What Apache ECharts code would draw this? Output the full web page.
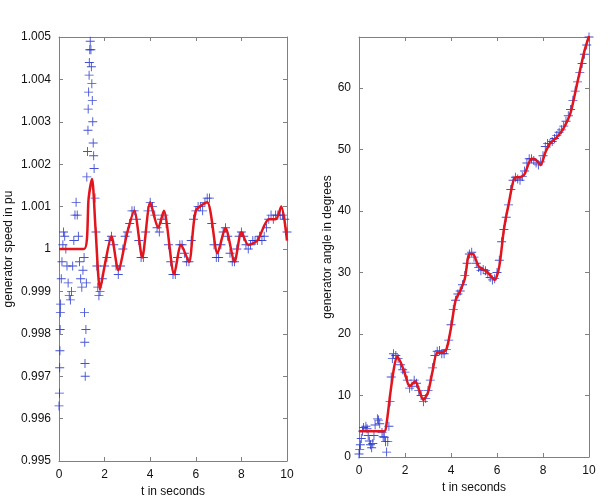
<!DOCTYPE html>
<html>
<head>
<meta charset="utf-8">
<script src="https://cdn.jsdelivr.net/npm/echarts@6/dist/echarts.min.js"></script>
<style>html,body{margin:0;background:#fff}#c{width:613px;height:503px}</style>
</head>
<body>
<div id="c"></div>
<script>
// speed (pu): fitted curve (red) and measured points (blue)
var speedLine = [[0,1.0],[1.1,1.0],[1.3,1.0012],[1.45,1.00165],[1.6,1.0005],[1.8,0.99905],[2.0,0.9996],[2.3,1.0003],[2.6,0.9995],[3.0,1.0004],[3.3,1.0009],[3.65,0.9998],[4.0,1.0011],[4.35,1.0005],[4.6,1.0009],[5.05,0.9994],[5.35,1.0001],[5.7,0.9997],[6.0,1.0009],[6.5,1.0011],[6.95,0.9999],[7.3,1.0005],[7.7,0.9997],[8.0,1.0004],[8.3,1.0001],[8.7,1.0002],[9.2,1.0007],[9.5,1.0007],[9.75,1.001],[10,1.0002]];
var speedPts = [[0,0.9963],[0.02,0.9966],[0.03,0.9972],[0.04,0.9976],[0.05,0.9981],[0.06,0.9985],[0.07,0.9987],[0.1,0.9993],[0.13,0.9997],[0.17,1.0001],[0.2,1.0004],[0.25,1.0003],[0.3,1.0],[0.35,0.9996],[0.4,0.9992],[0.45,0.9989],[0.5,0.9988],[0.55,0.999],[0.6,0.9996],[0.65,1.0002],[0.7,1.0008],[0.75,1.0011],[0.8,1.0008],[0.85,1.0003],[0.9,0.9997],[0.95,0.9993],[1.0,0.9991],[1.05,0.9995],[1.1,0.9998],[1.12,0.9985],[1.13,0.9978],[1.14,0.9973],[1.15,0.997],[1.18,0.9981],[1.2,0.9992],[1.22,1.0017],[1.25,1.0023],[1.27,1.0028],[1.28,1.0033],[1.3,1.0037],[1.32,1.0041],[1.33,1.0044],[1.35,1.0047],[1.37,1.0049],[1.4,1.0047],[1.42,1.0043],[1.44,1.0039],[1.46,1.0035],[1.48,1.003],[1.5,1.0025],[1.52,1.0022],[1.54,1.0019],[1.58,1.0012],[1.62,1.0004],[1.66,0.9996],[1.7,0.9991],[1.75,0.9989],
[1.8,0.999],[1.9,0.9993],[2.0,0.9996],[2.1,0.9998],[2.2,1.0002],[2.3,1.0003],[2.4,1.0001],[2.5,0.9996],[2.6,0.9994],[2.7,0.9996],[2.8,1.0],[2.9,1.0003],[3.0,1.0004],[3.1,1.0006],[3.2,1.0009],[3.3,1.0009],[3.4,1.0007],[3.5,1.0002],[3.6,0.9998],[3.7,0.9998],[3.8,1.0004],[3.9,1.0009],[4.0,1.0011],[4.1,1.001],[4.2,1.0008],[4.3,1.0005],[4.4,1.0004],[4.5,1.0007],[4.6,1.0008],[4.7,1.0006],[4.8,1.0001],[4.9,0.9997],[5.0,0.9994],[5.1,0.9994],[5.2,0.9998],[5.3,1.0001],[5.4,1.0001],[5.5,0.9999],[5.6,0.9997],[5.7,0.9997],[5.8,1.0002],[5.9,1.0007],[6.0,1.0009],[6.1,1.001],[6.2,1.001],[6.3,1.0009],[6.4,1.0011],[6.5,1.0012],[6.6,1.0012],[6.7,1.0006],[6.8,1.0001],[6.9,0.9998],[7.0,0.9998],[7.1,1.0001],[7.2,1.0004],[7.3,1.0005],[7.4,1.0003],[7.5,0.9999],[7.6,0.9997],[7.7,0.9997],[7.8,1.0],[7.9,1.0003],[8.0,1.0004],[8.1,1.0003],[8.2,1.0001],[8.3,1.0],[8.4,1.0001],[8.5,1.0002],[8.6,1.0002],[8.7,1.0002],[8.8,1.0003],[8.9,1.0002],[9.0,1.0003],[9.1,1.0005],[9.2,1.0007],[9.3,1.0008],[9.4,1.0007],[9.5,1.0008],[9.6,1.0008],[9.7,1.0008],[9.8,1.0008],[9.9,1.0007],[10,1.0004]];

// angle (degrees)
var angleLine = [[0,4.2],[1.1,4.2],[1.2,5.5],[1.35,10],[1.5,14],[1.65,16.3],[1.8,15.5],[2.0,13.5],[2.2,11.5],[2.45,12.3],[2.6,11],[2.8,9.3],[3.0,10.5],[3.2,14],[3.4,17],[3.6,17],[3.8,17.5],[4.0,21],[4.2,25.5],[4.4,27],[4.6,29],[4.8,33],[4.95,33],[5.2,31],[5.4,30.5],[5.6,30],[5.9,28.8],[6.1,31],[6.3,37],[6.5,41],[6.8,45.5],[7.0,45.5],[7.2,46],[7.5,48.5],[7.7,48.3],[7.9,47.5],[8.1,49.5],[8.3,51],[8.6,52],[8.9,53.5],[9.2,56],[9.5,61],[9.8,66],[10,68.5]];
var anglePts = [[0,0.5],[0.03,1.2],[0.06,2],[0.1,3],[0.15,4.2],[0.2,4.8],[0.3,5],[0.35,4.6],[0.4,3.5],[0.45,2.6],[0.5,2],[0.55,1.5],[0.6,2.2],[0.65,3.5],[0.7,5.2],[0.8,6.2],[0.85,6.0],[0.9,5.4],[1.0,4],[1.05,3.3],[1.1,3.2],[1.15,2.5],[1.2,0.8],[1.25,2.5],[1.3,5],[1.35,9],[1.4,13],[1.45,16],[1.5,16.8],[1.6,16.5],
[1.7,16],[1.8,15],[1.9,14.2],[2.0,13.8],[2.1,12.5],[2.2,11.2],[2.3,11.5],[2.4,12.5],[2.5,12],[2.6,10.8],[2.7,10],[2.8,9],[2.9,9.5],[3.0,10.8],[3.1,12.5],[3.2,14.5],[3.3,16.5],[3.4,17.2],[3.5,17.3],[3.6,16.8],[3.7,16.8],[3.8,17.5],[3.9,19],[4.0,21.5],[4.1,24],[4.2,25.5],[4.3,26.5],[4.4,27],[4.5,28],[4.6,29.5],[4.7,31.5],[4.8,33],[4.9,33.3],[5.0,32.5],[5.1,31.5],[5.2,30.8],[5.3,30.3],[5.4,30.5],[5.5,30.3],[5.6,29.8],[5.7,29.2],[5.8,28.8],[5.9,29],[6.0,30],[6.1,32],[6.2,35],[6.3,37],[6.4,39],[6.5,41],[6.6,43.5],[6.7,45],[6.8,45.5],[6.9,45.2],[7.0,45],[7.1,45.6],[7.2,46.5],[7.3,47.8],[7.4,48.5],[7.5,48.5],[7.6,48.2],[7.7,47.8],[7.8,47.5],[7.9,48],[8.0,49],[8.1,50.5],[8.2,51],[8.3,51],[8.4,51.3],[8.5,51.8],[8.6,52.3],[8.7,52.8],[8.8,53.2],[8.9,53.8],[9.0,54.6],[9.1,55.5],[9.2,56.5],[9.3,58],[9.4,59.5],[9.5,61],[9.6,62.5],[9.7,64],[9.8,65.5],[9.9,67],[10,68.3]];

var plus = 'path://M4.5 0H5.5V4.5H10V5.5H5.5V10H4.5V5.5H0V4.5H4.5Z';
var font = 'Liberation Sans';
var boxLine = {show: true, onZero: false, lineStyle: {color: '#808080', width: 1}};
var tick = {show: true, inside: true, length: 4, lineStyle: {color: '#808080'}};
var lbl = {color: '#111', fontSize: 12, fontFamily: font};
var nameStyle = {color: '#111', fontSize: 12, fontFamily: font};

function xAxes(g) {
    return [
        {gridIndex: g, type: 'value', min: 0, max: 10, interval: 2, axisLine: boxLine, axisTick: tick,
         axisLabel: lbl, splitLine: {show: false}, name: 't in seconds', nameLocation: 'middle', nameGap: 17,
         nameTextStyle: nameStyle},
        {gridIndex: g, type: 'value', position: 'top', min: 0, max: 10, interval: 2, axisLine: boxLine,
         axisTick: tick, axisLabel: {show: false}, splitLine: {show: false}}
    ];
}
function yAxes(g, min, max, step, name, gap, fmt) {
    return [
        {gridIndex: g, type: 'value', min: min, max: max, interval: step, axisLine: boxLine, axisTick: tick,
         axisLabel: Object.assign({formatter: fmt}, lbl), splitLine: {show: false}, name: name,
         nameLocation: 'middle', nameGap: gap, nameTextStyle: nameStyle},
        {gridIndex: g, type: 'value', position: 'right', min: min, max: max, interval: step, axisLine: boxLine,
         axisTick: tick, axisLabel: {show: false}, splitLine: {show: false}}
    ];
}

var chart = echarts.init(document.getElementById('c'));
chart.setOption({
    backgroundColor: '#fff',
    animation: false,
    grid: [
        {left: 59, right: 326, top: 37, bottom: 42},
        {left: 359, right: 24, top: 37, bottom: 46}
    ],
    xAxis: xAxes(0).concat(xAxes(1)),
    yAxis: yAxes(0, 0.995, 1.005, 0.001, 'generator speed in pu', 44, function (v) {
        return String(+v.toFixed(3));
    }).concat(yAxes(1, 0, 68.3, 10, 'generator angle in degrees', 24, function (v) {
        return v % 10 === 0 ? v : '';
    })),
    series: [
        {type: 'scatter', xAxisIndex: 0, yAxisIndex: 0, data: speedPts, symbol: plus, symbolSize: 9,
         itemStyle: {color: '#2233cc', opacity: 0.85}, clip: true},
        {type: 'line', xAxisIndex: 0, yAxisIndex: 0, data: speedLine, smooth: 0.25, showSymbol: false,
         lineStyle: {color: '#e3141c', width: 2.5}},
        {type: 'scatter', xAxisIndex: 2, yAxisIndex: 2, data: anglePts, symbol: plus, symbolSize: 9,
         itemStyle: {color: '#2233cc', opacity: 0.85}, clip: true},
        {type: 'line', xAxisIndex: 2, yAxisIndex: 2, data: angleLine, smooth: 0.25, showSymbol: false,
         lineStyle: {color: '#e3141c', width: 2.5}}
    ]
});
</script>
</body>
</html>
